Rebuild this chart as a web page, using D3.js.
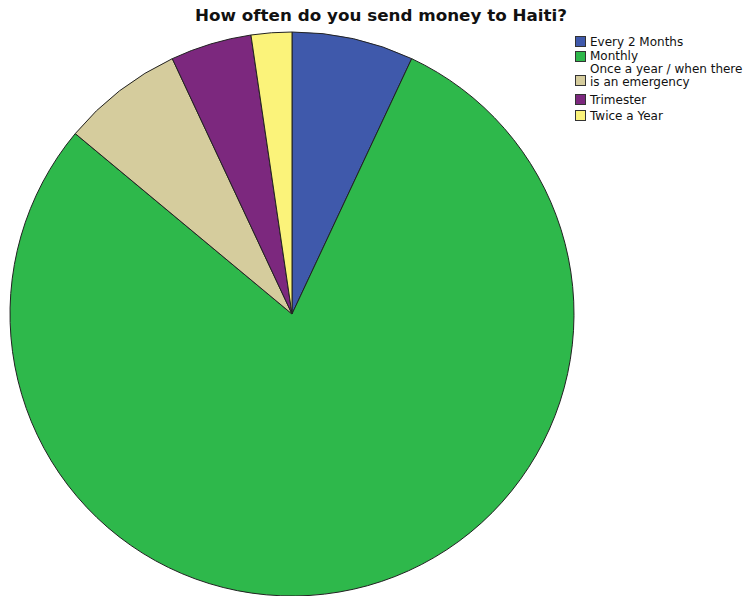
<!DOCTYPE html>
<html>
<head>
<meta charset="utf-8">
<script src="https://cdn.jsdelivr.net/npm/d3@7"></script>
<style>
  html, body { margin: 0; padding: 0; background: #fff; }
  svg { display: block; }
</style>
</head>
<body>
<svg id="chart" width="750" height="596"></svg>
<script>
// Survey answers and respondent counts
const categories = ["Every 2 Months", "Monthly", "Once a year / when there is an emergency", "Trimester", "Twice a Year"];
const counts = [3, 34, 3, 2, 1];
const colors = ["#3f59ab", "#2eb84b", "#d5cc9d", "#7c287e", "#fbf37a"];
const legendLines = [["Every 2 Months"], ["Monthly"], ["Once a year / when there", "is an emergency"], ["Trimester"], ["Twice a Year"]];

const svg = d3.select("#chart");
const cx = 292, cy = 314, r = 282;

svg.append("text")
  .attr("x", 381).attr("y", 21)
  .attr("text-anchor", "middle")
  .attr("font-family", "'DejaVu Sans', sans-serif")
  .attr("font-weight", "bold")
  .attr("font-size", 16)
  .attr("textLength", 372)
  .attr("lengthAdjust", "spacingAndGlyphs")
  .attr("fill", "#111")
  .text("How often do you send money to Haiti?");

const pie = d3.pie().sort(null).value(d => d.v);
const arc = d3.arc().innerRadius(0).outerRadius(r);
const data = categories.map((c, i) => ({ c, v: counts[i], col: colors[i] }));

svg.append("g")
  .attr("transform", `translate(${cx},${cy})`)
  .selectAll("path")
  .data(pie(data))
  .join("path")
  .attr("d", arc)
  .attr("fill", d => d.data.col)
  .attr("stroke", "#222")
  .attr("stroke-width", 1);

// Legend: swatch tops and first-line text baselines
const leg = svg.append("g").attr("font-family", "'DejaVu Sans', sans-serif").attr("font-size", 12).attr("fill", "#111");
const swatchY = [36, 51, 75, 94, 110];
const baseY = [46, 60, 73, 104, 120];
categories.forEach((c, i) => {
  leg.append("rect")
    .attr("x", 575.5).attr("y", swatchY[i] + 0.5)
    .attr("width", 10).attr("height", 10)
    .attr("fill", colors[i]).attr("stroke", "#333").attr("stroke-width", 1);
  legendLines[i].forEach((t, j) => {
    leg.append("text")
      .attr("x", 590).attr("y", baseY[i] + j * 12.5)
      .text(t);
  });
});
</script>
</body>
</html>
